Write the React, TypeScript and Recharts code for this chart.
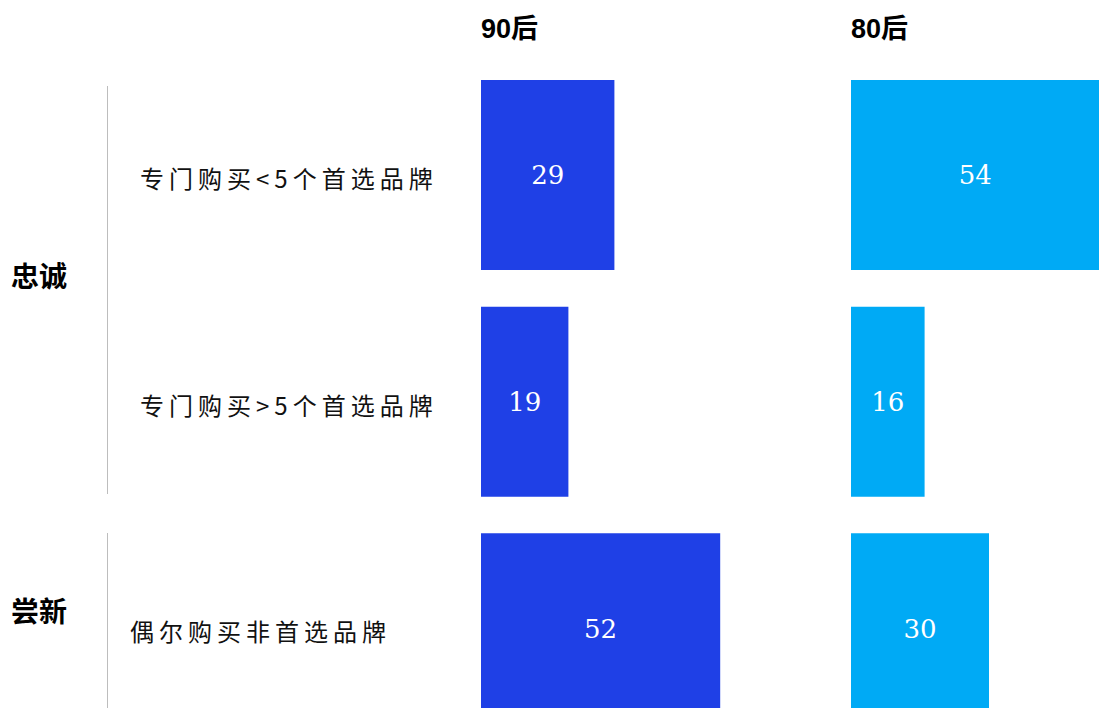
import React from "react";
import { BarChart, Bar, XAxis, YAxis, LabelList } from "recharts";

const categories = ["专门购买<5个首选品牌", "专门购买>5个首选品牌", "偶尔购买非首选品牌"];
const values90 = [29, 19, 52];
const values80 = [54, 16, 30];
const seriesNames = ["90后", "80后"];
const groupNames = ["忠诚", "尝新"];

const data90 = categories.map((name, i) => ({ name, value: values90[i] }));
const data80 = categories.map((name, i) => ({ name, value: values80[i] }));

const COLOR90 = "#1F40E6";
const COLOR80 = "#00AAF5";
const tickX = [140, 140, 130];
const CJK = "'Noto Sans CJK SC', 'Noto Sans', sans-serif";

const CategoryTick = (props: any) => {
  const { y, payload, index } = props;
  return (
    <text
      x={tickX[index] ?? 135}
      y={y + 2}
      dominantBaseline="central"
      textAnchor="start"
      fontSize={24}
      letterSpacing={5}
      fill="#111"
      fontFamily={CJK}
    >
      {payload.value}
    </text>
  );
};

const chartHeight = 742;
const margin = { top: 62, right: 0, bottom: 0, left: 0 };

export default function App() {
  return (
    <div
      style={{
        position: "absolute",
        left: 0,
        top: 0,
        width: 1099,
        height: 708,
        overflow: "hidden",
        background: "#fff",
      }}
    >
      <div style={{ position: "absolute", left: 0, top: 0 }}>
        <BarChart width={849} height={chartHeight} data={data90} layout="vertical" margin={margin} barCategoryGap={0}>
          <XAxis type="number" domain={[0, 80]} hide />
          <YAxis
            type="category"
            dataKey="name"
            width={481}
            axisLine={false}
            tickLine={false}
            tick={<CategoryTick />}
            interval={0}
          />
          <Bar dataKey="value" name={seriesNames[0]} fill={COLOR90} barSize={190} isAnimationActive={false}>
            <LabelList dataKey="value" position="center" fill="#fff" fontSize={26} fontFamily="'DejaVu Serif', 'Liberation Serif', serif" />
          </Bar>
        </BarChart>
      </div>
      <div style={{ position: "absolute", left: 851, top: 0 }}>
        <BarChart width={368} height={chartHeight} data={data80} layout="vertical" margin={margin} barCategoryGap={0}>
          <XAxis type="number" domain={[0, 80]} hide />
          <YAxis type="category" dataKey="name" hide />
          <Bar dataKey="value" name={seriesNames[1]} fill={COLOR80} barSize={190} isAnimationActive={false}>
            <LabelList dataKey="value" position="center" fill="#fff" fontSize={26} fontFamily="'DejaVu Serif', 'Liberation Serif', serif" />
          </Bar>
        </BarChart>
      </div>

      {/* series headers */}
      {[481, 851].map((x, i) => (
        <div
          key={seriesNames[i]}
          style={{
            position: "absolute",
            left: x,
            top: 12,
            fontSize: 27,
            fontWeight: "bold",
            lineHeight: "34px",
            fontFamily: "'Liberation Sans', Arial, 'Noto Sans CJK SC', sans-serif",
            color: "#000",
          }}
        >
          {seriesNames[i]}
        </div>
      ))}

      {/* group labels */}
      {[275, 610].map((cy, i) => (
        <div
          key={groupNames[i]}
          style={{
            position: "absolute",
            left: 11,
            top: cy - 18,
            fontSize: 28,
            fontWeight: "bold",
            lineHeight: "36px",
            fontFamily: CJK,
            color: "#000",
          }}
        >
          {groupNames[i]}
        </div>
      ))}

      {/* group divider lines */}
      <div style={{ position: "absolute", left: 107, top: 86, width: 1, height: 408, background: "#bdbdbd" }} />
      <div style={{ position: "absolute", left: 107, top: 533, width: 1, height: 175, background: "#bdbdbd" }} />
    </div>
  );
}
